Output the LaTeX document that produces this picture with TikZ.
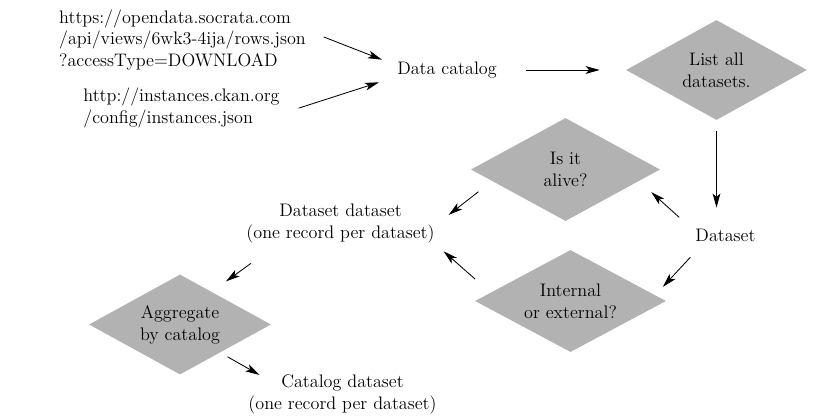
\documentclass[tikz,border=0pt]{standalone}
\usetikzlibrary{shapes.geometric,arrows.meta}
\tikzset{
  decision/.style={diamond, fill=gray!60, aspect=1.9, inner sep=0pt, align=center},
  txt/.style={inner sep=2pt, align=center},
  flow/.style={->, line width=0.6pt}
}
\begin{document}
\begin{tikzpicture}[x=0.025cm, y=-0.025cm, font=\fontsize{12.9}{15.5}\selectfont, line join=round, >={Stealth[length=10pt,width=5.5pt,inset=2.5pt]}]
	\useasboundingbox (0,0) rectangle (840,420);
	% sources and catalog
	\node[txt, align=left] (socrata) at (182.5,40) {https://opendata.socrata.com\\/api/views/6wk3-4ija/rows.json\\?accessType=DOWNLOAD};
	\node[txt, align=left] (ckan) at (181.5,108) {http://instances.ckan.org\\/config/instances.json};
	\node[txt] (catalog) at (447,70) {Data catalog};
	\node[decision, minimum width=4.525cm, minimum height=2.5cm] (listall) at (716.5,70) {List all\\datasets.};
	% per dataset
	\node[txt] (dataset) at (725.5,235) {Dataset};
	\node[decision, minimum width=4.725cm, minimum height=2.575cm] (alive) at (565.5,169.5) {Is it\\alive?};
	\node[decision, minimum width=4.775cm, minimum height=2.55cm] (inex) at (570.5,301) {Internal\\or external?};
	\node[txt] (dsds) at (340.5,223.5) {Dataset dataset\\(one record per dataset)};
	% per catalog
	\node[decision, minimum width=4.55cm, minimum height=2.5cm] (aggregate) at (180,324.5) {Aggregate\\by catalog};
	\node[txt] (catds) at (342.5,394.5) {Catalog dataset\\(one record per dataset)};
	% edges
	\draw[flow, shorten <=0.4cm, shorten >=0.33cm] (socrata.4) -- (catalog.174);
	\draw[flow, shorten <=0.42cm, shorten >=0.4cm] (ckan.-3) -- (catalog.188);
	\draw[flow, shorten <=0.65cm, shorten >=0.65cm] (catalog) -- (listall);
	\draw[flow, shorten <=0.28cm, shorten >=0.45cm] (listall.south) -- (listall.south |- dataset.north);
	\draw[flow, shorten <=0.44cm, shorten >=0.41cm] (dataset.170) -- (alive.-9);
	\draw[flow, shorten <=0.44cm, shorten >=0.28cm] (dataset.202) -- (inex.4);
	\draw[flow, shorten <=0.43cm, shorten >=0.35cm] (alive.189) -- (dsds.east);
	\draw[flow, shorten <=0.51cm, shorten >=0.2cm] (inex.174) -- (dsds.south east);
	\draw[flow, shorten <=0.74cm, shorten >=0.44cm] (dsds.199) -- (aggregate.46);
	\draw[flow, shorten <=0.21cm] (aggregate.-35) -- ([xshift=0.35cm,yshift=-0.075cm]catds.north west);
\end{tikzpicture}
\end{document}
